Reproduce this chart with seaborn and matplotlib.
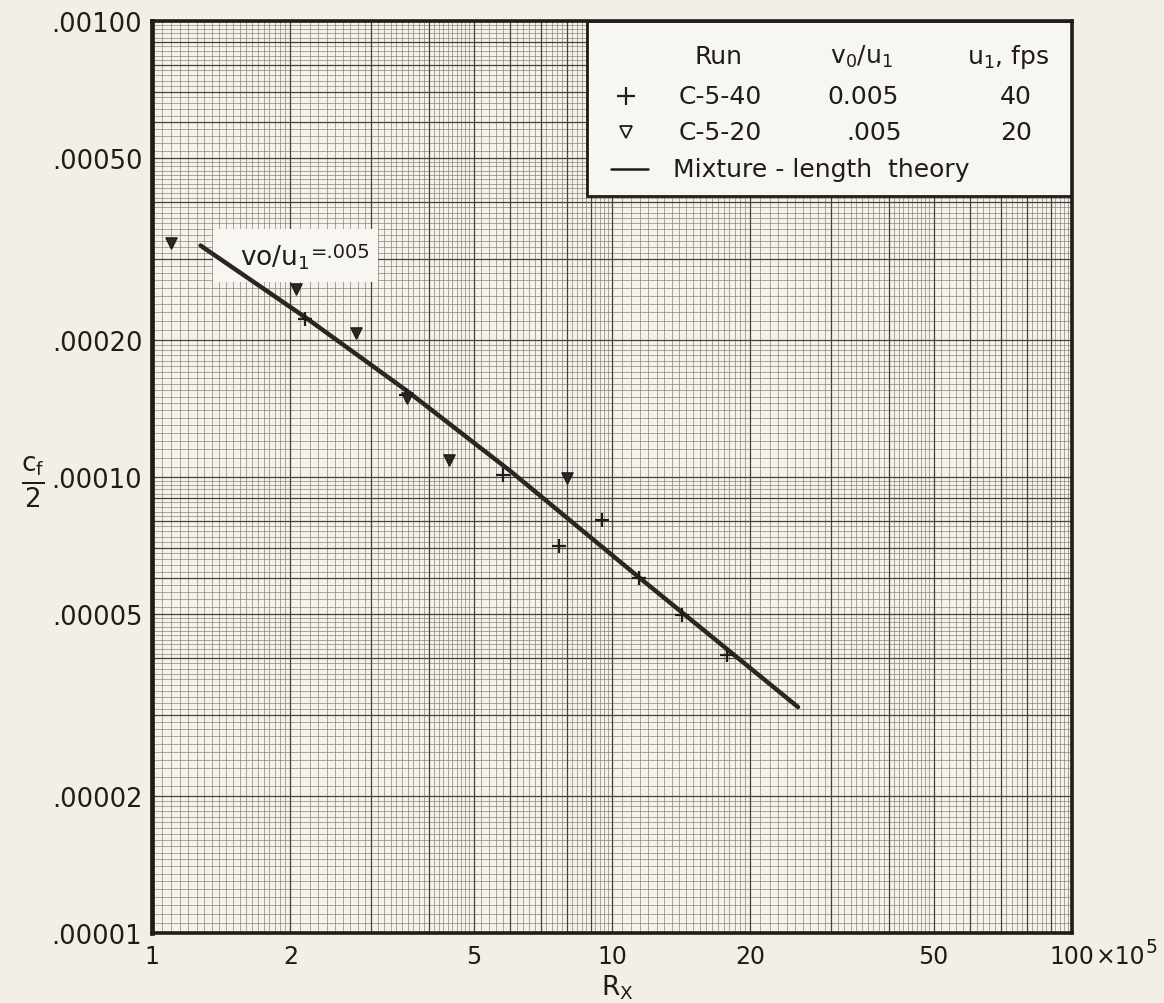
import numpy as np
import pandas as pd
import matplotlib
matplotlib.use("Agg")
import matplotlib.pyplot as plt
import seaborn as sns
from matplotlib.patches import Rectangle

# ---------------- data ----------------
rx_c540 = [2.15, 3.56, 5.79, 7.67, 9.49, 11.45, 14.17, 17.76]
cf_c540 = [0.000222, 0.000151, 0.0001008, 0.0000707, 0.0000804, 0.0000599, 0.0000499, 0.0000408]

rx_c520 = [1.10, 2.06, 2.78, 3.58, 4.42, 8.0]
cf_c520 = [0.000326, 0.000258, 0.000207, 0.000149, 0.000109, 0.0000997]

rx_theory = [1.275, 2.151, 3.579, 6.001, 11.45, 25.37]
cf_theory = [0.0003218, 0.0002242, 0.0001546, 0.0001032, 0.00006023, 0.0000313]

x_tick_values = [1, 2, 5, 10, 20, 50, 100]
x_tick_labels = ["1", "2", "5", "10", "20", "50", "100"]
x_scale_note = ["×10", "5"]
y_tick_values = [1e-3, 5e-4, 2e-4, 1e-4, 5e-5, 2e-5, 1e-5]
y_tick_labels = [".00100", ".00050", ".00020", ".00010", ".00005", ".00002", ".00001"]

legend_header = ["Run", "v$_0$/u$_1$", "u$_1$, fps"]
legend_row1 = ["C-5-40", "0.005", "40"]
legend_row2 = ["C-5-20", ".005", "20"]
legend_line = "Mixture - length  theory"
curve_label = ["vo/u$_1$", "=.005"]

# ---------------- style ----------------
sns.set_theme(style="white")
plt.rcParams["font.family"] = ["DejaVu Sans"]
paper = "#f1efe6"
ink = "#1f1c19"

W, H = 1164, 1004
fig = plt.figure(figsize=(W / 100, H / 100), dpi=100, facecolor=paper)
L, R, T, B = 152, 1072, 22, 934
ax = fig.add_axes([L / W, 1 - B / H, (R - L) / W, (B - T) / H])
ax.set_facecolor("#f4f2ea")
ax.set_xscale("log")
ax.set_yscale("log")
ax.set_xlim(1, 100)
ax.set_ylim(1e-5, 1e-3)

# log-paper grid (layout only)
def fine_lines(exps):
    out = []
    for e in exps:
        b = 10.0 ** e
        out += list(np.arange(1, 2, 0.05) * b) + list(np.arange(2, 5, 0.1) * b) + list(np.arange(5, 10, 0.2) * b)
    return out

def medium_lines(exps):
    out = []
    for e in exps:
        b = 10.0 ** e
        out += [k * b for k in range(1, 10)]
    return out

ax.vlines(fine_lines([0, 1]), 0, 1, transform=ax.get_xaxis_transform(), color="#7e7a72", lw=0.45, zorder=0.5)
ax.hlines(fine_lines([-5, -4]), 0, 1, transform=ax.get_yaxis_transform(), color="#7e7a72", lw=0.45, zorder=0.5)
ax.vlines(medium_lines([0, 1]), 0, 1, transform=ax.get_xaxis_transform(), color="#45423c", lw=0.9, zorder=0.6)
ax.hlines(medium_lines([-5, -4]), 0, 1, transform=ax.get_yaxis_transform(), color="#45423c", lw=0.9, zorder=0.6)

# ---------------- data marks ----------------
df40 = pd.DataFrame({"Rx": rx_c540, "cf": cf_c540})
df20 = pd.DataFrame({"Rx": rx_c520, "cf": cf_c520})
dft = pd.DataFrame({"Rx": rx_theory, "cf": cf_theory})

# label box for the curve
ax.add_patch(Rectangle((0.0663, 0.714), 0.1794, 0.058, transform=ax.transAxes,
                       facecolor="#f7f6f0", edgecolor="none", zorder=2))
lab_main = ax.text(0.0957, 0.733, curve_label[0], transform=ax.transAxes, fontsize=19,
                   color=ink, va="baseline", ha="left", zorder=2.1)

sns.lineplot(data=dft, x="Rx", y="cf", ax=ax, color="#2a2622", lw=3.2,
             sort=True, zorder=3, legend=False)
sns.scatterplot(data=df40, x="Rx", y="cf", ax=ax, marker="+", s=110,
                color=ink, linewidth=1.6, zorder=4, legend=False)
sns.scatterplot(data=df20, x="Rx", y="cf", ax=ax, marker="v", s=65,
                color="#2b2724", edgecolor=ink, linewidth=1.0, zorder=4, legend=False)

# ---------------- axes / ticks ----------------
ax.set_xticks(x_tick_values)
ax.set_xticklabels(x_tick_labels)
ax.set_xticks([], minor=True)
ax.set_yticks(y_tick_values)
ax.set_yticklabels(y_tick_labels)
ax.set_yticks([], minor=True)
ax.tick_params(axis="x", length=0, pad=8, labelsize=17, colors=ink)
ax.tick_params(axis="y", length=0, pad=7, labelsize=18.5, colors=ink)
ax.set_xlabel("")
ax.set_ylabel("")
for name, s in ax.spines.items():
    s.set_visible(True)
    s.set_color(ink)
    s.set_linewidth(3.4 if name == "left" else 2.6)
    s.set_zorder(10)

ax.annotate(x_scale_note[0], xy=(100, 1e-5), xycoords="data", xytext=(24, -11),
            textcoords="offset pixels", ha="left", va="top", fontsize=17, color=ink,
            annotation_clip=False)
ax.annotate(x_scale_note[1], xy=(100, 1e-5), xycoords="data", xytext=(74, -4),
            textcoords="offset pixels", ha="left", va="top", fontsize=13.5, color=ink,
            annotation_clip=False)

fig.text(617 / W, 1 - 988 / H, "R$_\\mathrm{X}$", ha="center", va="center", fontsize=19, color=ink)
fig.text(33 / W, 1 - 482 / H, r"$\frac{\mathrm{c_f}}{\mathrm{2}}$", ha="center", va="center",
         fontsize=27, color=ink)

# ---------------- legend box ----------------
bx0, by0 = 0.473, 0.808
ax.add_patch(Rectangle((bx0, by0), 1 - bx0, 1 - by0, transform=ax.transAxes,
                       facecolor="#f7f6f0", edgecolor=ink, lw=2.0, zorder=6))
cols = [0.616, 0.771, 0.931]
rows = [0.962, 0.918, 0.878, 0.838]
for c, t in zip(cols, legend_header):
    ax.text(c, rows[0], t, transform=ax.transAxes, ha="center", va="center", fontsize=18, color=ink, zorder=7)
for c, t in zip([0.618, 0.773, 0.939], legend_row1):
    ax.text(c, rows[1], t, transform=ax.transAxes, ha="center", va="center", fontsize=18, color=ink, zorder=7)
for c, t in zip([0.618, 0.785, 0.939], legend_row2):
    ax.text(c, rows[2], t, transform=ax.transAxes, ha="center", va="center", fontsize=18, color=ink, zorder=7)
ax.plot([0.515], [rows[1]], marker="+", ms=13, mew=1.6, color=ink, transform=ax.transAxes, zorder=7, clip_on=False)
ax.plot([0.515], [rows[2]], marker="v", ms=8, mew=1.3, mfc="none", mec=ink, transform=ax.transAxes, zorder=7, clip_on=False)
ax.plot([0.499, 0.539], [rows[3], rows[3]], color=ink, lw=1.8, transform=ax.transAxes, zorder=7)
ax.text(0.566, rows[3], legend_line, transform=ax.transAxes, ha="left", va="center", fontsize=18, color=ink, zorder=7)

# raised "=.005" placed right after the curve label
fig.canvas.draw()
bb = lab_main.get_window_extent()
base_y = ax.transAxes.transform((0, 0.733))[1]
fig.text((bb.x1 + 1) / W, (base_y + 8) / H, curve_label[1], ha="left", va="baseline",
         fontsize=14, color=ink, zorder=8)

fig.savefig("out.png", dpi=100, facecolor=paper)
